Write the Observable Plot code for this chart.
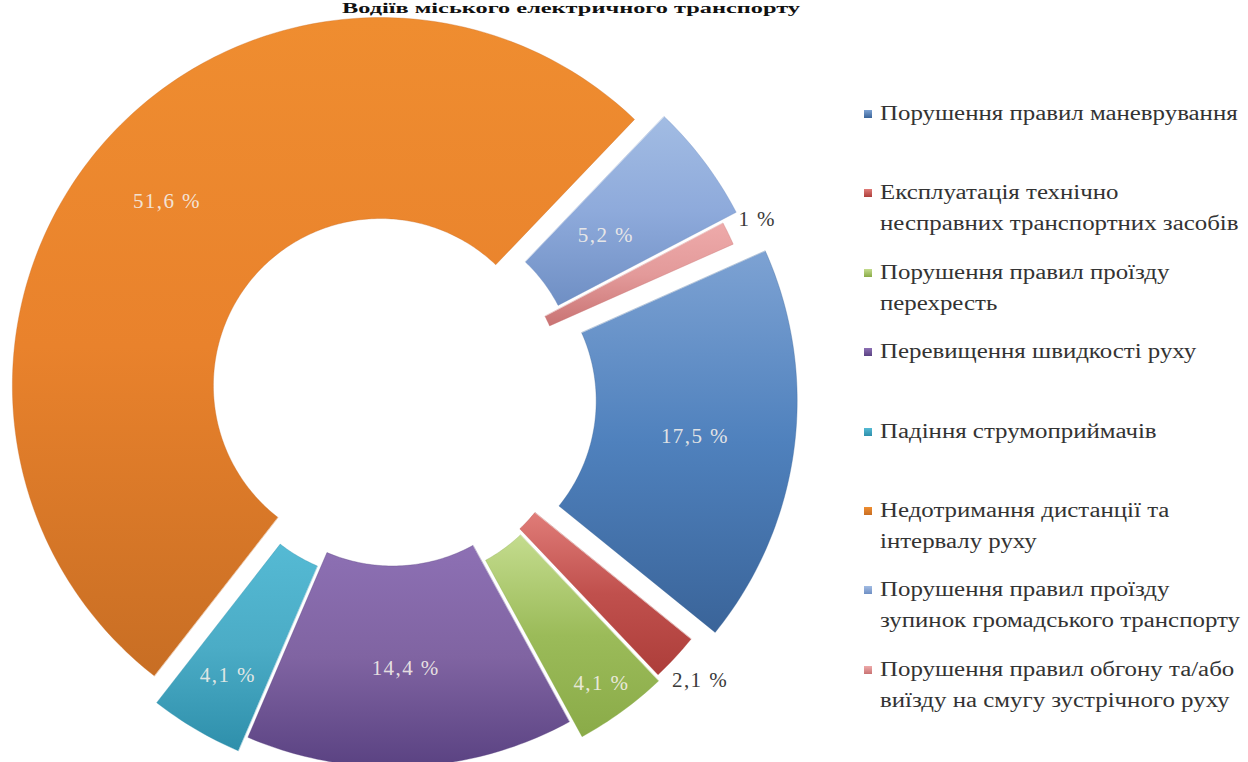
<!DOCTYPE html>
<html>
<head>
<meta charset="utf-8">
<script src="https://cdn.jsdelivr.net/npm/d3@7"></script>
<script src="https://cdn.jsdelivr.net/npm/@observablehq/plot@0.6"></script>
<style>
  html, body { margin: 0; padding: 0; background: #fff; }
  #wrap { position: relative; width: 1248px; height: 762px; overflow: hidden; font-family: "Liberation Serif", "Times New Roman", "DejaVu Serif", serif; }
  #chart { position: absolute; left: 0; top: 0; }
  #title { position: absolute; top: 1px; left: 342px; font-weight: bold; font-size: 14px; line-height: 15px; color: #111; white-space: nowrap; transform-origin: 0 0; }
  #legend { position: absolute; left: 862px; top: 98px; color: #333; font-size: 20px; }
  .item { position: relative; height: 79.4px; padding-left: 18px; }
  .item .sw { position: absolute; left: 2px; top: 12px; width: 8px; height: 8px; }
  .item .ln { line-height: 31px; white-space: nowrap; transform-origin: 0 50%; display: block; width: max-content; }
</style>
</head>
<body>
<div id="wrap">
  <div id="chart"></div>
  <div id="title"></div>
  <div id="legend"></div>
</div>
<script>
// ---- data ----
const title = "Водіїв міського електричного транспорту";
const categories = [
  "Порушення правил маневрування",
  "Експлуатація технічно несправних транспортних засобів",
  "Порушення правил проїзду перехресть",
  "Перевищення швидкості руху",
  "Падіння струмоприймачів",
  "Недотримання дистанції та інтервалу руху",
  "Порушення правил проїзду зупинок громадського транспорту",
  "Порушення правил обгону та/або виїзду на смугу зустрічного руху"
];
const legendLines = [
  ["Порушення правил маневрування"],
  ["Експлуатація технічно", "несправних транспортних засобів"],
  ["Порушення правил проїзду", "перехресть"],
  ["Перевищення швидкості руху"],
  ["Падіння струмоприймачів"],
  ["Недотримання дистанції та", "інтервалу руху"],
  ["Порушення правил проїзду", "зупинок громадського транспорту"],
  ["Порушення правил обгону та/або", "виїзду на смугу зустрічного руху"]
];
const values = [17.5, 2.1, 4.1, 14.4, 4.1, 51.6, 5.2, 1];

// ---- style / layout ----
const baseColors = ["#4f81bd", "#c0504d", "#9bbb59", "#8064a2", "#4bacc6", "#e9822c", "#8eaadb", "#e39a9a"];
const topColors  = ["#7da2d3", "#e07c78", "#c4dc8e", "#8d70b4", "#55bad4", "#ef8d30", "#a2bce3", "#eeaaaa"];
const botColors  = ["#3a6499", "#ad3e3a", "#8aab48", "#5a4282", "#2e8fab", "#c86e24", "#6f8fc4", "#c97373"];
const explode    = [37, 17, 22, 3, 19, 16, 22, 5];
const labelR     = [268, 402, 333, 270, 305, 282, 245, 400];
const labelInside = [true, false, true, true, true, true, true, false];
const startDeg = 66;
const R = 368, r0 = 167;
const W = 1248, H = 762, cx = 392, cy = 395.5;
const legendTextWidth = 360, titleWidth = 458;

// ---- geometry built from the values ----
const total = d3.sum(values);
let acc = startDeg * Math.PI / 180;
const slices = values.map((v, i) => {
  const a0 = acc, a1 = acc + v / total * 2 * Math.PI;
  acc = a1;
  const mid = (a0 + a1) / 2;
  return {i, v, a0, a1, mid, ox: explode[i] * Math.sin(mid), oy: explode[i] * Math.cos(mid)};
});
const ringPts = [];
for (const s of slices) {
  const n = Math.max(8, Math.ceil((s.a1 - s.a0) * 60));
  for (let k = 0; k <= n; k++) {
    const a = s.a0 + (s.a1 - s.a0) * k / n;
    ringPts.push({i: s.i, x: s.ox + R * Math.sin(a), y: s.oy + R * Math.cos(a)});
  }
  for (let k = n; k >= 0; k--) {
    const a = s.a0 + (s.a1 - s.a0) * k / n;
    ringPts.push({i: s.i, x: s.ox + r0 * Math.sin(a), y: s.oy + r0 * Math.cos(a)});
  }
}
const fmt = v => String(v).replace(".", ",") + " %";
const labelData = slices.map(s => ({
  i: s.i, text: fmt(s.v), inside: labelInside[s.i],
  x: s.ox + labelR[s.i] * Math.sin(s.mid),
  y: s.oy + labelR[s.i] * Math.cos(s.mid)
}));

const sliceMarks = slices.map(s => Plot.line(ringPts.filter(p => p.i === s.i), {
  x: "x", y: "y", curve: "linear-closed",
  fill: `url(#g${s.i})`, stroke: botColors[s.i], strokeOpacity: 0.35, strokeWidth: 1
}));

const labelFont = "'Liberation Serif', 'Times New Roman', serif";
const chart = Plot.plot({
  width: W, height: H, margin: 0,
  x: {domain: [-cx, W - cx], axis: null},
  y: {domain: [cy - H, cy], axis: null},
  style: {background: "transparent", overflow: "visible", letterSpacing: "1.4px"},
  marks: [
    ...sliceMarks,
    Plot.text(labelData.filter(d => d.inside), {
      x: "x", y: "y", text: "text", fill: "#f4f0ea", fillOpacity: 0.9,
      fontSize: 21, fontFamily: labelFont, textAnchor: "middle"
    }),
    Plot.text(labelData.filter(d => !d.inside), {
      x: "x", y: "y", text: "text", fill: "#3a3a3a",
      fontSize: 21, fontFamily: labelFont, textAnchor: "middle"
    })
  ]
});

const defs = d3.select(chart).insert("defs", ":first-child");
slices.forEach(s => {
  const g = defs.append("linearGradient").attr("id", `g${s.i}`)
    .attr("x1", 0).attr("y1", 0).attr("x2", 0).attr("y2", 1);
  g.append("stop").attr("offset", "0%").attr("stop-color", topColors[s.i]);
  g.append("stop").attr("offset", "50%").attr("stop-color", baseColors[s.i]);
  g.append("stop").attr("offset", "100%").attr("stop-color", botColors[s.i]);
});
document.getElementById("chart").appendChild(chart);

const titleEl = document.getElementById("title");
titleEl.textContent = title;
const tw = titleEl.getBoundingClientRect().width;
titleEl.style.transform = `scaleX(${titleWidth / tw})`;

const legend = d3.select("#legend");
legendLines.forEach((lines, i) => {
  const it = legend.append("div").attr("class", "item").attr("title", categories[i]);
  it.append("div").attr("class", "sw")
    .style("background", `linear-gradient(${topColors[i]}, ${botColors[i]})`);
  lines.forEach(t => it.append("div").attr("class", "ln").text(t));
});
// widest legend line sets the horizontal stretch of the legend text
const lns = document.querySelectorAll("#legend .ln");
const maxW = d3.max(Array.from(lns), el => el.getBoundingClientRect().width);
const sx = legendTextWidth / maxW;
lns.forEach(el => el.style.transform = `scaleX(${sx})`);
</script>
</body>
</html>
